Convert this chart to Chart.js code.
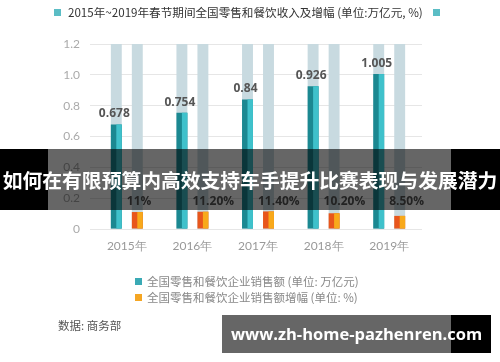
<!DOCTYPE html>
<html>
<head>
<meta charset="utf-8">
<script src="https://cdn.jsdelivr.net/npm/chart.js@4.4.1/dist/chart.umd.min.js"></script>
<style>
  html, body { margin: 0; padding: 0; background: #fff; }
  #wrap { position: relative; width: 500px; height: 362px; overflow: hidden; font-family: "Noto Sans CJK SC", sans-serif; }
  #ourChart { position: absolute; left: 0; top: 0; }
  .abs { position: absolute; white-space: nowrap; }
  .sq { position: absolute; width: 7px; height: 7px; }
</style>
</head>
<body>
<div id="wrap">
  <canvas id="ourChart" width="500" height="362"></canvas>

  <div class="sq" style="left:54px;top:9px;background:#5bbdc5"></div>
  <div class="abs" id="title" style="left:68px;top:3px;font-size:11.6px;color:#333;line-height:18px">2015年~2019年春节期间全国零售和餐饮收入及增幅 (单位:万亿元, %)</div>
  <div class="sq" style="left:433px;top:9px;background:#5bbdc5"></div>

  <div class="sq" style="left:135px;top:278px;background:#3aaab5"></div>
  <div class="abs" style="left:147px;top:273px;font-size:11.5px;color:#888;line-height:17px">全国零售和餐饮企业销售额 (单位: 万亿元)</div>
  <div class="sq" style="left:135px;top:294px;background:#f5a623"></div>
  <div class="abs" style="left:147px;top:289px;font-size:11.5px;color:#888;line-height:17px">全国零售和餐饮企业销售额增幅 (单位: %)</div>

  <div class="abs" style="left:58px;top:316px;font-size:11.5px;color:#555;line-height:18px">数据: 商务部</div>

  <!-- banner overlay -->
  <div class="abs" style="left:0;top:149px;width:48px;height:61px;background:#000"></div>
  <div class="abs" style="left:48px;top:149px;width:403px;height:61px;background:rgba(0,0,0,0.6)"></div>
  <div class="abs" style="left:451px;top:149px;width:49px;height:61px;background:#000"></div>
  <div class="abs" style="left:0;top:149px;width:500px;height:61px;line-height:61px;text-align:center;color:#fff;font-weight:bold;font-size:19.8px">如何在有限预算内高效支持车手提升比赛表现与发展潜力</div>

  <!-- watermark -->
  <div class="abs" style="left:222px;top:315px;width:229px;height:38px;background:rgba(0,0,0,0.6)"></div>
  <div class="abs" style="left:451px;top:315px;width:40px;height:38px;background:#000"></div>
  <div class="abs" style="left:222px;top:315px;width:269px;height:38px;line-height:38px;text-align:center;color:#fff;font-weight:bold;font-size:16.5px;font-family:'Open Sans',sans-serif">www.zh-home-pazhenren.com</div>
</div>

<script>
let ourCanvas = document.getElementById("ourChart");

let years = ['2015年', '2016年', '2017年', '2018年', '2019年']
let sales = [0.678, 0.754, 0.84, 0.926, 1.005]
let growth = [11, 11.2, 11.4, 10.2, 8.5]
let growthLabels = ['11%', '11.20%', '11.40%', '10.20%', '8.50%']
let yTicks = [0, 0.2, 0.4, 0.6, 0.8, 1.0, 1.2]

const lightHalf = ['#3fc1cb', '#f8a91a']

// фон столбцов, двухцветные столбцы и подписи
const barDeco = {
    id: 'barDeco',
    beforeDatasetsDraw(chart) {
        const ctx = chart.ctx;
        const area = chart.chartArea;
        ctx.save();
        ctx.fillStyle = '#c8dae0';
        chart.data.datasets.forEach((ds, i) => {
            chart.getDatasetMeta(i).data.forEach(el => {
                const p = el.getProps(['x', 'width'], true);
                ctx.fillRect(p.x - p.width / 2, area.top, p.width, area.bottom - area.top);
            });
        });
        ctx.restore();
    },
    afterDatasetsDraw(chart) {
        const ctx = chart.ctx;
        const xScale = chart.scales.x;
        const yScale = chart.scales.y;
        ctx.save();
        chart.data.datasets.forEach((ds, i) => {
            chart.getDatasetMeta(i).data.forEach(el => {
                const p = el.getProps(['x', 'y', 'base', 'width'], true);
                ctx.fillStyle = lightHalf[i];
                ctx.fillRect(p.x, p.y, p.width / 2, p.base - p.y);
            });
        });
        ctx.font = 'bold 12px "Open Sans", sans-serif';
        ctx.fillStyle = '#555';
        ctx.textBaseline = 'middle';
        ctx.textAlign = 'center';
        chart.getDatasetMeta(0).data.forEach((el, j) => {
            ctx.fillText(String(sales[j]), el.x - 2, el.y - 10.5);
        });
        ctx.textAlign = 'left';
        growthLabels.forEach((t, j) => {
            ctx.fillText(t, xScale.getPixelForValue(j), yScale.getPixelForValue(0.175));
        });
        ctx.restore();
    }
};

const chartElement = new Chart(ourCanvas, {
    type: 'bar',
    data: {
        labels: years,
        datasets: [
            {
                label: '全国零售和餐饮企业销售额 (单位: 万亿元)',
                data: sales,
                backgroundColor: '#1b8891',
                categoryPercentage: 0.64,
                barPercentage: 0.52
            },
            {
                label: '全国零售和餐饮企业销售额增幅 (单位: %)',
                data: growth.map(v => v / 100),
                backgroundColor: '#e8561c',
                categoryPercentage: 0.64,
                barPercentage: 0.52
            }
        ]
    },
    options: {
        responsive: false,
        animation: false,
        layout: { padding: { top: 44, right: 78, left: 0, bottom: 0 } },
        plugins: {
            legend: { display: false },
            title: { display: false },
            tooltip: { enabled: false }
        },
        scales: {
            x: {
                grid: { display: false, drawTicks: false },
                border: { display: false },
                ticks: { color: '#999', font: { family: 'Lato', size: 12 }, padding: 10 },
                afterFit(scale) { scale.height = 133; }
            },
            y: {
                min: 0,
                max: 1.2,
                afterBuildTicks(scale) { scale.ticks = yTicks.map(v => ({ value: v })); },
                grid: { color: '#e6e6e6', tickLength: 4 },
                border: { display: false },
                ticks: {
                    color: '#aaa',
                    font: { family: 'Lato', size: 12 },
                    padding: 10,
                    callback: v => v === 0 ? '0' : v.toFixed(1)
                },
                afterFit(scale) { scale.width = 94; }
            }
        }
    },
    plugins: [barDeco]
});
</script>
</body>
</html>
